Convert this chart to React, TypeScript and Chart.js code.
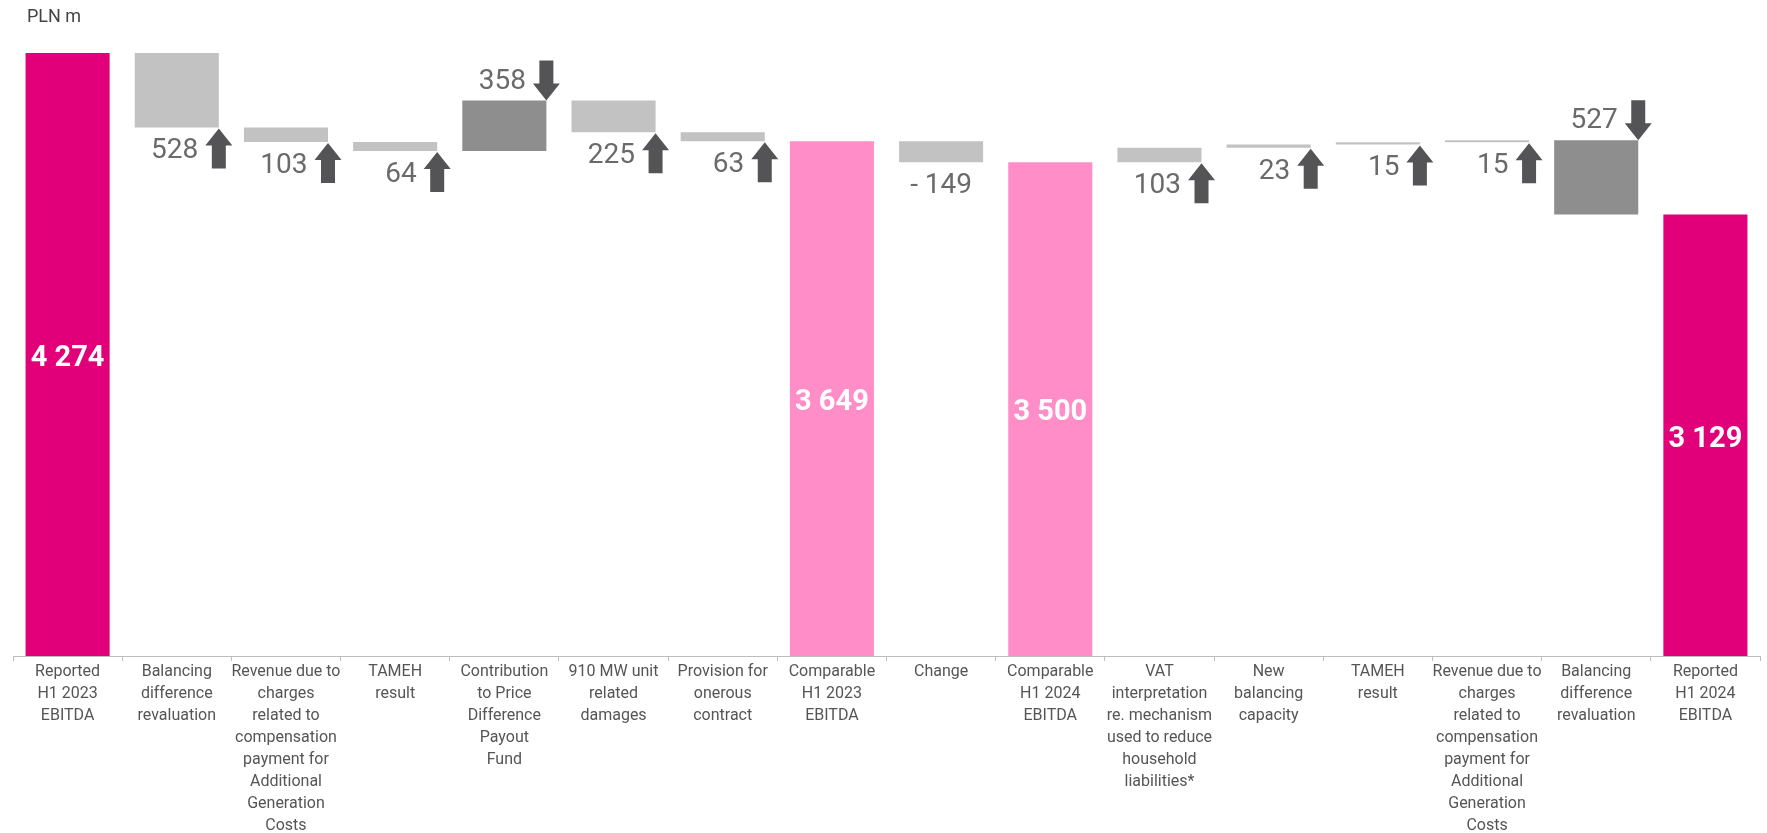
import React, { useEffect, useRef } from "react";
import { Chart, registerables } from "chart.js";

Chart.register(...registerables);

const categories: string[][] = [
  ["Reported", "H1 2023", "EBITDA"],
  ["Balancing", "difference", "revaluation"],
  ["Revenue due to", "charges", "related to", "compensation", "payment for", "Additional", "Generation", "Costs"],
  ["TAMEH", "result"],
  ["Contribution", "to Price", "Difference", "Payout", "Fund"],
  ["910 MW unit", "related", "damages"],
  ["Provision for", "onerous", "contract"],
  ["Comparable", "H1 2023", "EBITDA"],
  ["Change"],
  ["Comparable", "H1 2024", "EBITDA"],
  ["VAT", "interpretation", "re. mechanism", "used to reduce", "household", "liabilities*"],
  ["New", "balancing", "capacity"],
  ["TAMEH", "result"],
  ["Revenue due to", "charges", "related to", "compensation", "payment for", "Additional", "Generation", "Costs"],
  ["Balancing", "difference", "revaluation"],
  ["Reported", "H1 2024", "EBITDA"],
];

// kind: "reported" / "comparable" totals, "delta" = signed change from the running total
const barKinds = ["reported", "delta", "delta", "delta", "delta", "delta", "delta", "comparable", "delta", "comparable", "delta", "delta", "delta", "delta", "delta", "reported"];
const barValues = [4274, -528, -103, -64, 358, -225, -63, 3649, -149, 3500, 103, 23, 15, 15, -527, 3129];
const labelTexts = ["4 274", "528", "103", "64", "358", "225", "63", "3 649", "- 149", "3 500", "103", "23", "15", "15", "527", "3 129"];
const arrowDirs = ["", "up", "up", "up", "down", "up", "up", "", "", "", "up", "up", "up", "up", "down", ""];

const yMin = 0;
const yMax = 4274;

const COLORS = {
  reported: "#E2007A",
  comparable: "#FF8DC8",
  light: "#C2C2C2",
  dark: "#8E8E8E",
  arrow: "#545456",
  value: "#6A6A6A",
  axis: "#BDBDBD",
  tick: "#555555",
};

function buildRanges(): [number, number][] {
  const out: [number, number][] = [];
  let running = 0;
  barKinds.forEach((k, i) => {
    const v = barValues[i];
    if (k === "delta") {
      const next = running + v;
      out.push([Math.min(running, next), Math.max(running, next)]);
      running = next;
    } else {
      out.push([0, v]);
      running = v;
    }
  });
  return out;
}

const ranges = buildRanges();
const barColors = barKinds.map((k, i) =>
  k === "reported" ? COLORS.reported : k === "comparable" ? COLORS.comparable : arrowDirs[i] === "down" ? COLORS.dark : COLORS.light
);

function drawArrow(ctx: CanvasRenderingContext2D, cx: number, tipY: number, dir: string) {
  const H = 40, headH = 17, headW = 27, shaftW = 14;
  const s = dir === "up" ? 1 : -1;
  ctx.beginPath();
  ctx.moveTo(cx, tipY);
  ctx.lineTo(cx + headW / 2, tipY + s * headH);
  ctx.lineTo(cx + shaftW / 2, tipY + s * headH);
  ctx.lineTo(cx + shaftW / 2, tipY + s * H);
  ctx.lineTo(cx - shaftW / 2, tipY + s * H);
  ctx.lineTo(cx - shaftW / 2, tipY + s * headH);
  ctx.lineTo(cx - headW / 2, tipY + s * headH);
  ctx.closePath();
  ctx.fillStyle = COLORS.arrow;
  ctx.fill();
}

const overlayPlugin = {
  id: "overlay",
  afterDatasetsDraw(chart: any) {
    const ctx: CanvasRenderingContext2D = chart.ctx;
    const meta = chart.getDatasetMeta(0);
    const y = chart.scales.y;
    ctx.save();
    meta.data.forEach((el: any, i: number) => {
      const { x, width } = el.getProps(["x", "width"], true);
      const [lo, hi] = ranges[i];
      const top = y.getPixelForValue(hi);
      const bottom = y.getPixelForValue(lo);
      const right = x + width / 2;
      const kind = barKinds[i];
      const dir = arrowDirs[i];
      if (kind !== "delta") {
        ctx.font = "bold 29px Roboto";
        ctx.fillStyle = "#FFFFFF";
        ctx.textAlign = "center";
        ctx.textBaseline = "middle";
        ctx.fillText(labelTexts[i], x, (top + bottom) / 2 + 4);
      } else if (dir) {
        const tipY = dir === "up" ? bottom + 1 : top;
        drawArrow(ctx, right, tipY, dir);
        ctx.font = "28px Roboto";
        ctx.fillStyle = COLORS.value;
        ctx.textAlign = "right";
        ctx.textBaseline = "middle";
        const cy = dir === "up" ? tipY + 20 + 3 : tipY - 20 + 1;
        ctx.fillText(labelTexts[i], right - 13.5 - 7, cy);
      } else {
        ctx.font = "28px Roboto";
        ctx.fillStyle = COLORS.value;
        ctx.textAlign = "center";
        ctx.textBaseline = "middle";
        ctx.fillText(labelTexts[i], x, bottom + 24);
      }
    });
    ctx.font = "18px Roboto";
    ctx.fillStyle = "#444444";
    ctx.textAlign = "left";
    ctx.textBaseline = "middle";
    ctx.fillText("PLN m", 27, 17);
    ctx.restore();
  },
};

export default function App() {
  const ref = useRef<HTMLCanvasElement | null>(null);
  useEffect(() => {
    if (!ref.current) return;
    const chart = new Chart(ref.current, {
      type: "bar",
      data: {
        labels: categories,
        datasets: [
          {
            data: ranges as any,
            backgroundColor: barColors,
            borderWidth: 0,
            barPercentage: 0.77,
            categoryPercentage: 1,
          },
        ],
      },
      options: {
        animation: false,
        responsive: true,
        maintainAspectRatio: false,
        layout: { padding: { top: 53, left: 13, right: 7, bottom: 0 } },
        plugins: { legend: { display: false }, tooltip: { enabled: false } },
        scales: {
          x: {
            grid: { display: true, drawOnChartArea: false, drawTicks: true, tickLength: 5, color: COLORS.axis },
            border: { display: true, color: COLORS.axis },
            ticks: {
              autoSkip: false,
              maxRotation: 0,
              minRotation: 0,
              padding: 0,
              color: COLORS.tick,
              font: { family: "Roboto", size: 16, lineHeight: 1.375 },
            },
          },
          y: { display: false, min: yMin, max: yMax },
        },
      },
      plugins: [overlayPlugin],
    });
    return () => chart.destroy();
  }, []);
  return (
    <div style={{ position: "absolute", left: 0, top: 0, width: "1767px", height: "833px", overflow: "hidden", background: "#fff" }}>
      <div style={{ position: "relative", width: "1767px", height: "837px" }}>
        <canvas ref={ref} />
      </div>
    </div>
  );
}
